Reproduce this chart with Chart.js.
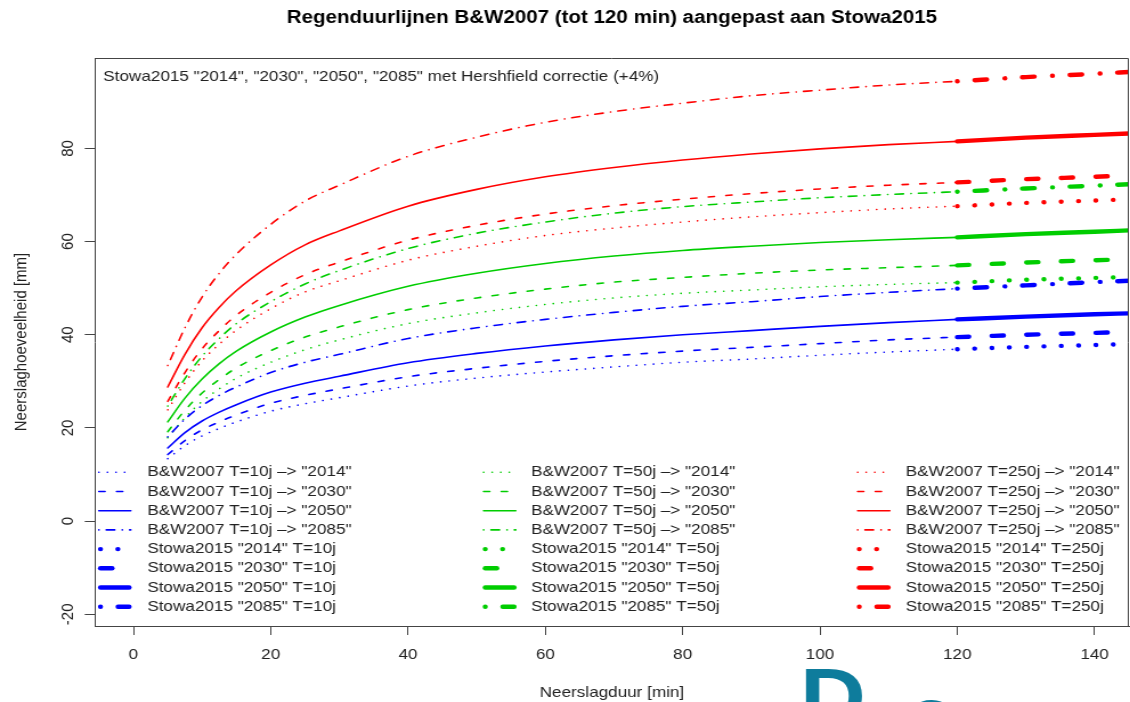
<!DOCTYPE html>
<html><head><meta charset="utf-8">
<script src="https://cdn.jsdelivr.net/npm/chart.js@4.4.0/dist/chart.umd.min.js"></script>
<style>
html,body{margin:0;padding:0;background:#fff;overflow:hidden;}
#wrap{position:absolute;left:0;top:0;width:991px;height:702px;transform:scaleX(1.1403);transform-origin:0 0;}
</style></head><body>
<div id="wrap"><canvas id="c" width="991" height="702"></canvas></div>
<script>
// ---------- data ----------
const durBW = [5,7.5,10,12.5,15,20,25,30,40,50,60,70,80,90,100,110,120];
const durStowa = [120,130,140,145];
const xTicks = [0,20,40,60,80,100,120,140];
const yTicks = [-20,0,20,40,60,80];

const bw10_2014 = [13.4,16.2,18.3,19.9,21.3,23.6,25.2,26.5,29.0,30.7,32.0,33.1,34.1,34.8,35.6,36.3,36.9];
const bw10_2030 = [14.3,17.3,19.6,21.3,22.8,25.3,27.0,28.4,31.0,32.8,34.3,35.5,36.5,37.3,38.1,38.9,39.5];
const bw10_2050 = [15.7,19.0,21.5,23.4,25.0,27.7,29.6,31.1,34.0,36.0,37.6,38.9,40.0,40.9,41.8,42.6,43.3];
const bw10_2085 = [18.1,21.9,24.8,27.0,28.8,31.9,34.1,35.8,39.2,41.5,43.3,44.8,46.1,47.1,48.2,49.1,49.9];
const st10_2014 = [36.9,37.4,37.8,38.0];
const st10_2030 = [39.5,40.0,40.4,40.6];
const st10_2050 = [43.3,43.9,44.4,44.6];
const st10_2085 = [49.9,50.6,51.3,51.6];

const bw50_2014 = [17.9,22.2,25.7,28.4,30.7,34.1,36.8,38.9,42.4,44.7,46.5,47.9,48.9,49.6,50.3,50.8,51.2];
const bw50_2030 = [19.2,23.8,27.5,30.4,32.9,36.6,39.5,41.7,45.4,47.9,49.8,51.3,52.3,53.2,53.9,54.4,54.9];
const bw50_2050 = [21.3,26.4,30.5,33.8,36.5,40.6,43.8,46.3,50.4,53.2,55.3,56.9,58.1,59.0,59.8,60.4,60.9];
const bw50_2085 = [24.7,30.6,35.4,39.2,42.4,47.1,50.9,53.8,58.5,61.8,64.2,66.1,67.5,68.5,69.4,70.1,70.7];
const st50_2014 = [51.2,51.8,52.2,52.4];
const st50_2030 = [54.9,55.5,56.0,56.2];
const st50_2050 = [60.9,61.6,62.1,62.4];
const st50_2085 = [70.7,71.4,72.0,72.3];

const bw250_2014 = [23.9,29.7,34.4,38.0,41.0,45.6,49.2,51.6,56.0,59.0,61.3,62.9,64.2,65.3,66.2,67.0,67.6];
const bw250_2030 = [25.7,31.9,37.0,40.9,44.2,49.1,52.9,55.6,60.3,63.5,65.9,67.7,69.1,70.3,71.3,72.1,72.7];
const bw250_2050 = [28.8,35.8,41.5,45.9,49.5,55.0,59.3,62.3,67.6,71.2,73.9,75.9,77.5,78.8,79.9,80.8,81.5];
const bw250_2085 = [33.4,41.5,48.1,53.2,57.3,63.7,68.7,72.1,78.3,82.4,85.6,87.9,89.7,91.3,92.5,93.6,94.4];
const st250_2014 = [67.6,68.3,68.8,69.1];
const st250_2030 = [72.7,73.4,73.9,74.2];
const st250_2050 = [81.5,82.3,82.9,83.2];
const st250_2085 = [94.4,95.3,96.0,96.4];

const scenarios = ['"2014"','"2030"','"2050"','"2085"'];
const periods = ['10j','50j','250j'];
const TITLE = 'Regenduurlijnen B&W2007 (tot 120 min) aangepast aan Stowa2015';
const NOTE = 'Stowa2015 "2014", "2030", "2050", "2085" met Hershfield correctie (+4%)';
const X_TITLE = 'Neerslagduur [min]';
const Y_TITLE = 'Neerslaghoeveelheid [mm]';

// ---------- styles ----------
const FONT = '"Liberation Sans", Arial, Helvetica, sans-serif';
const colors = ['#0000ff','#00cd00','#ff0000'];
const thinDash = [[0.1,7.4],[5.4,10.1],[],[0.1,6.4,7.4,6.6]];
const thickDash = [[0.1,15.1],[10.2,20.2],[],[0.1,15.3,10.5,15.9]];
const THIN = 1.6, THICK = 4.4;

const bwSeries = [[bw10_2014,bw10_2030,bw10_2050,bw10_2085],[bw50_2014,bw50_2030,bw50_2050,bw50_2085],[bw250_2014,bw250_2030,bw250_2050,bw250_2085]];
const stSeries = [[st10_2014,st10_2030,st10_2050,st10_2085],[st50_2014,st50_2030,st50_2050,st50_2085],[st250_2014,st250_2030,st250_2050,st250_2085]];

function mk(label, xs, ys, color, dash, width){
  return {label, data: xs.map((x,i)=>({x:x, y:ys[i]})), borderColor:color, backgroundColor:color,
    borderWidth:width, borderDash:dash, borderCapStyle:'round', borderJoinStyle:'round', pointRadius:0, fill:false,
    cubicInterpolationMode:'monotone'};
}
const datasets = [];
for (let p=0;p<3;p++){
  for (let s=0;s<4;s++) datasets.push(mk('B&W2007 T='+periods[p]+' \u2013> '+scenarios[s], durBW, bwSeries[p][s], colors[p], thinDash[s], THIN));
  for (let s=0;s<4;s++) datasets.push(mk('Stowa2015 '+scenarios[s]+' T='+periods[p], durStowa, stSeries[p][s], colors[p], thickDash[s], THICK));
}

const textPlugin = {
  id:'texts',
  afterDraw(chart){
    const ctx = chart.ctx, a = chart.chartArea;
    ctx.save();
    ctx.strokeStyle='#444'; ctx.lineWidth=1;
    ctx.beginPath(); ctx.moveTo(a.left, a.top+0.5); ctx.lineTo(a.right-0.5, a.top+0.5); ctx.lineTo(a.right-0.5, a.bottom); ctx.stroke();
    ctx.fillStyle='#000'; ctx.font='bold 18px '+FONT; ctx.textAlign='center'; ctx.textBaseline='middle';
    ctx.fillText(TITLE, (a.left+a.right)/2, 18);
    ctx.fillStyle='#222'; ctx.font='15px '+FONT; ctx.textAlign='left';
    ctx.fillText(NOTE, 90.6, 77);
    const cols=[{x0:85.9,x1:115.5,tx:129.2},{x0:423.3,x1:453.1,tx:465.7},{x0:751.3,x1:781.1,tx:794.3}];
    chart.data.datasets.forEach((ds,i)=>{
      const c = cols[Math.floor(i/8)], y = 472.3 + (i%8)*19.2;
      const w = ds.borderWidth;
      ctx.strokeStyle=ds.borderColor; ctx.lineWidth=w; ctx.setLineDash(ds.borderDash); ctx.lineCap='round';
      ctx.beginPath(); ctx.moveTo(c.x0+w/2,y); ctx.lineTo(c.x1-w/2,y); ctx.stroke();
      ctx.setLineDash([]);
      ctx.fillStyle='#222'; ctx.font='15px '+FONT; ctx.textBaseline='middle'; ctx.textAlign='left';
      ctx.fillText(ds.label, c.tx, y);
    });
    // cropped logo at the bottom edge
    ctx.fillStyle='#0e7c9c'; ctx.font='bold 80px '+FONT; ctx.textAlign='left'; ctx.textBaseline='alphabetic';
    ctx.fillText('D', 701.6, 724);
    ctx.fillText('e', 794, 743);
    ctx.restore();
  }
};

Chart.defaults.font.family = FONT;
new Chart(document.getElementById('c'), {
  type:'line',
  data:{datasets},
  options:{
    responsive:false, animation:false,
    layout:{padding:{top:58,right:1,bottom:0,left:0}},
    plugins:{legend:{display:false}, tooltip:{enabled:false}, title:{display:false}},
    scales:{
      x:{type:'linear', min:-5.6, max:145,
        afterFit(s){ s.height = 76; },
        afterBuildTicks(s){ s.ticks = xTicks.map(v=>({value:v})); },
        ticks:{includeBounds:false, padding:11, color:'#222', font:{size:15}, maxRotation:0, autoSkip:false},
        grid:{drawOnChartArea:false, drawTicks:true, tickLength:9, color:'#444'},
        border:{display:true, color:'#444', width:1},
        title:{display:true, text:X_TITLE, color:'#222', font:{size:15}, padding:{top:0,bottom:0}}
      },
      y:{type:'linear', min:-22.5, max:99.4,
        afterFit(s){ s.width = 83.3; },
        afterBuildTicks(s){ s.ticks = yTicks.map(v=>({value:v})); },
        ticks:{includeBounds:false, minRotation:90, maxRotation:90, crossAlign:'center', padding:4, color:'#222', font:{size:15}, autoSkip:false},
        grid:{drawOnChartArea:false, drawTicks:true, tickLength:9, color:'#444'},
        border:{display:true, color:'#444', width:1},
        title:{display:true, text:Y_TITLE, color:'#222', font:{size:15}, padding:{top:10.3,bottom:0}}
      }
    }
  },
  plugins:[textPlugin]
});
</script>
</body></html>
